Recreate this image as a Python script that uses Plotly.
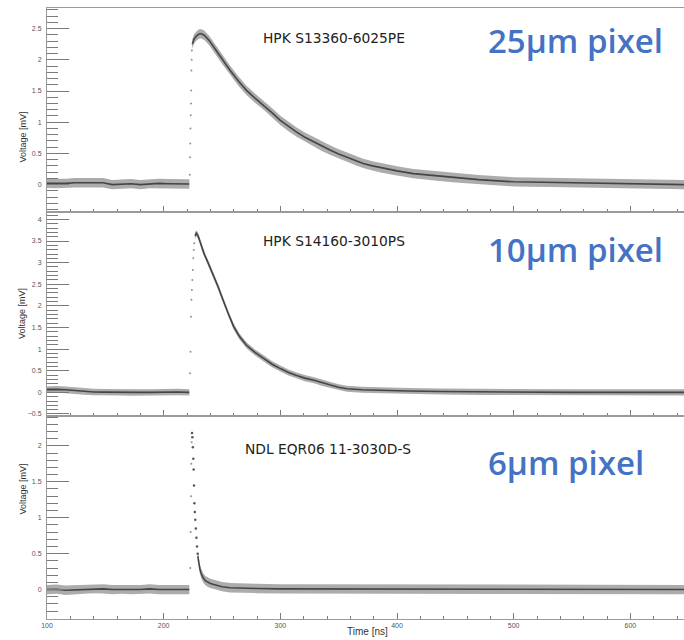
import plotly.graph_objects as go

# ---------------- data ----------------
# Panel 1: HPK S13360-6025PE (25um pixel)
t1_base = [100, 108, 116, 124, 132, 140, 148, 156, 164, 172, 180, 188, 196, 204, 212, 222]
v1_base = [0.02, 0.015, 0.02, 0.03, 0.03, 0.035, 0.03, 0.0, 0.01, 0.015, 0.0, 0.015, 0.02, 0.015, 0.01, 0.01]
t1_rise = [222.4, 222.6, 222.8, 223.0, 223.2, 223.4, 223.6, 223.8, 224.0, 224.2]
v1_rise = [0.16, 0.44, 0.66, 0.9, 1.11, 1.3, 1.51, 1.83, 2.0, 2.15]
t1_pulse = [224.5, 226, 228, 230, 232, 235, 239, 243, 250, 257, 264, 271, 278, 286, 293, 300, 307, 314,
            321, 329, 336, 343, 350, 357, 364, 371, 379, 386, 393, 400, 414, 434, 450, 470, 500, 530,
            563, 600, 646]
v1_pulse = [2.25, 2.33, 2.38, 2.41, 2.42, 2.39, 2.31, 2.2, 2.01, 1.83, 1.66, 1.51, 1.39, 1.27, 1.15, 1.03,
            0.93, 0.84, 0.76, 0.68, 0.61, 0.55, 0.49, 0.44, 0.39, 0.34, 0.30, 0.27, 0.24, 0.22, 0.176,
            0.138, 0.11, 0.08, 0.045, 0.035, 0.026, 0.01, 0.0]
w1 = 0.075

# Panel 2: HPK S14160-3010PS (10um pixel)
t2_base = [100, 108, 116, 124, 132, 140, 148, 156, 164, 172, 180, 188, 196, 204, 212, 222]
v2_base = [0.06, 0.07, 0.06, 0.04, 0.02, 0.01, 0.005, 0.0, 0.0, -0.005, 0.0, 0.0, 0.005, 0.005, 0.01, 0.0]
t2_rise = [222.6, 223.0, 223.4, 223.8, 224.2, 224.6, 225.0, 225.4, 225.8, 226.2]
v2_rise = [0.44, 0.94, 1.75, 2.14, 2.37, 2.6, 2.83, 3.1, 3.29, 3.45]
t2_pulse = [226.8, 228, 229.5, 231, 233, 235, 238, 241, 244, 247, 250, 253, 256, 260, 265, 271, 278, 286,
            293, 300, 307, 314, 321, 329, 336, 343, 350, 357, 370, 386, 410, 437, 470, 500, 550, 600, 646]
v2_pulse = [3.62, 3.68, 3.62, 3.5, 3.33, 3.18, 3.0, 2.82, 2.62, 2.42, 2.2, 1.98, 1.78, 1.52, 1.29, 1.09,
            0.93, 0.78, 0.65, 0.55, 0.46, 0.39, 0.33, 0.28, 0.22, 0.17, 0.12, 0.085, 0.06, 0.045, 0.03,
            0.02, 0.01, 0.005, 0.0, 0.0, 0.0]
w2_base = 0.075
w2_pulse = 0.07

# Panel 3: NDL EQR06 11-3030D-S (6um pixel)
t3_base = [100, 108, 116, 124, 132, 140, 148, 156, 164, 172, 180, 188, 196, 204, 212, 222]
v3_base = [0.0, 0.005, -0.01, -0.005, 0.005, 0.015, 0.01, 0.0, 0.005, 0.0, 0.0, 0.01, 0.0, -0.005, 0.0, 0.0]
t3_rise = [222.8, 223.1, 223.4, 223.7, 224.0]
v3_rise = [0.3, 0.8, 1.3, 1.75, 2.05]
t3_fall = [224.3, 224.6, 225.0, 225.4, 225.7, 226.0, 226.3, 226.7, 227.1, 227.6, 228.1, 228.6, 229.2]
v3_fall = [2.18, 2.12, 1.98, 1.82, 1.67, 1.45, 1.2, 1.08, 0.97, 0.85, 0.72, 0.6, 0.5]
t3_pulse = [229.2, 230, 231, 232, 233, 234, 236, 238, 240, 243, 246, 250, 257, 265, 280, 300, 330, 360,
            400, 450, 500, 550, 600, 646]
v3_pulse = [0.47, 0.37, 0.29, 0.23, 0.19, 0.16, 0.12, 0.1, 0.085, 0.07, 0.055, 0.04, 0.025, 0.02, 0.015,
            0.01, 0.01, 0.0, 0.0, 0.005, 0.0, 0.0, 0.0, 0.0]
w3 = 0.065

device_names = ["HPK S13360-6025PE", "HPK S14160-3010PS", "NDL EQR06 11-3030D-S"]
pixel_labels = ["25\u00b5m pixel", "10\u00b5m pixel", "6\u00b5m pixel"]
x_ticks = [100, 200, 300, 400, 500, 600]

# ---------------- figure ----------------
fig = go.Figure()


def band(t, v, w, xa, ya):
    xs = list(t) + list(reversed(t))
    ys = [a + w for a in v] + [a - w for a in reversed(v)]
    fig.add_trace(go.Scatter(x=xs, y=ys, xaxis=xa, yaxis=ya, mode="lines", fill="toself",
                             line=dict(width=0), fillcolor="rgba(90,90,90,0.5)",
                             hoverinfo="skip", showlegend=False))
    fig.add_trace(go.Scatter(x=t, y=v, xaxis=xa, yaxis=ya, mode="lines",
                             line=dict(width=1.6, color="rgba(0,0,0,0.6)"),
                             showlegend=False))


def dots(t, v, xa, ya, color="rgba(70,70,70,0.6)", size=2):
    fig.add_trace(go.Scatter(x=t, y=v, xaxis=xa, yaxis=ya, mode="markers",
                             marker=dict(size=size, color=color),
                             showlegend=False))


band(t1_base, v1_base, w1, "x", "y")
dots(t1_rise, v1_rise, "x", "y")
band(t1_pulse, v1_pulse, w1, "x", "y")

band(t2_base, v2_base, w2_base, "x2", "y2")
dots(t2_rise, v2_rise, "x2", "y2")
band(t2_pulse, v2_pulse, w2_pulse, "x2", "y2")

band(t3_base, v3_base, w3, "x3", "y3")
dots(t3_rise, v3_rise, "x3", "y3")
dots(t3_fall, v3_fall, "x3", "y3", color="rgba(30,30,30,0.75)", size=2.5)
band(t3_pulse, v3_pulse, w3, "x3", "y3")

# ---------------- layout ----------------
L, T, B = 47, 8, 21
W, H = 684, 640
PH = H - T - B
PW = W - L


def px(x, y):
    return (x - L) / PW, (H - B - y) / PH


dom3 = [0, 0.3327]
dom2 = [0.3327, 0.666]
dom1 = [0.666, 1]

AX_LINE = "#9a9a9a"
TICK_C = "#7a7a7a"
LABEL_FONT = dict(family="Liberation Sans, Arial, sans-serif", size=7, color="#555555")


def xaxis(anchor, show_labels):
    return dict(domain=[0, 1], anchor=anchor, range=[100, 646], showgrid=False, zeroline=False,
                showline=True, linecolor=AX_LINE, linewidth=1, mirror=True,
                ticks="inside", ticklen=6, tickcolor=TICK_C, tickwidth=1,
                tickvals=x_ticks, showticklabels=show_labels, tickfont=LABEL_FONT,
                minor=dict(dtick=20, tick0=100, ticks="inside", ticklen=3, tickcolor=TICK_C),
                fixedrange=True)


def yaxis(anchor, dom, rng):
    return dict(domain=dom, anchor=anchor, range=rng, showgrid=False, zeroline=False,
                showline=True, linecolor=AX_LINE, linewidth=1,
                ticks="inside", ticklen=22, tickcolor=TICK_C, tickwidth=1, dtick=0.5, tick0=0,
                tickfont=LABEL_FONT, ticklabelstandoff=3,
                minor=dict(dtick=0.1, tick0=0, ticks="inside", ticklen=11, tickcolor=TICK_C),
                fixedrange=True)


fig.update_layout(
    width=W, height=H,
    margin=dict(l=L, r=0, t=T, b=B, pad=0),
    paper_bgcolor="white", plot_bgcolor="white",
    showlegend=False,
    xaxis=xaxis("y", False),
    xaxis2=xaxis("y2", False),
    xaxis3=xaxis("y3", True),
    yaxis=yaxis("x", dom1, [-0.44, 2.83]),
    yaxis2=yaxis("x2", dom2, [-0.54, 4.17]),
    yaxis3=yaxis("x3", dom3, [-0.41, 2.42]),
)

annotations = []
# y axis titles
for yc in [110, 314, 517]:
    ax_, ay_ = px(15, yc)
    annotations.append(dict(x=ax_, y=ay_, xref="paper", yref="paper", text="Voltage [mV]",
                            textangle=-90, showarrow=False,
                            font=dict(family="Liberation Sans, Arial, sans-serif", size=9,
                                      color="#333333")))
# x axis title
ax_, ay_ = px(367, 631.5)
annotations.append(dict(x=ax_, y=ay_, xref="paper", yref="paper", text="Time [ns]", showarrow=False,
                        yanchor="middle",
                        font=dict(family="Liberation Sans, Arial, sans-serif", size=10, color="#333333")))
# device names
for name, (xl, yc) in zip(device_names, [(261, 38), (261, 241), (243, 449)]):
    ax_, ay_ = px(xl, yc)
    annotations.append(dict(x=ax_, y=ay_, xref="paper", yref="paper", text=name, showarrow=False,
                            xanchor="left", yanchor="middle",
                            font=dict(family="DejaVu Sans, sans-serif", size=13.8, color="#222222")))
# pixel labels
for lab, (xl, yc) in zip(pixel_labels, [(486, 41), (486, 250), (486, 462)]):
    ax_, ay_ = px(xl, yc)
    annotations.append(dict(x=ax_, y=ay_, xref="paper", yref="paper", text=lab, showarrow=False,
                            xanchor="left", yanchor="middle",
                            font=dict(family="Open Sans, sans-serif", size=33, color="#4472C4",
                                      weight=600)))
fig.update_layout(annotations=annotations)

fig.write_html("out.html")
